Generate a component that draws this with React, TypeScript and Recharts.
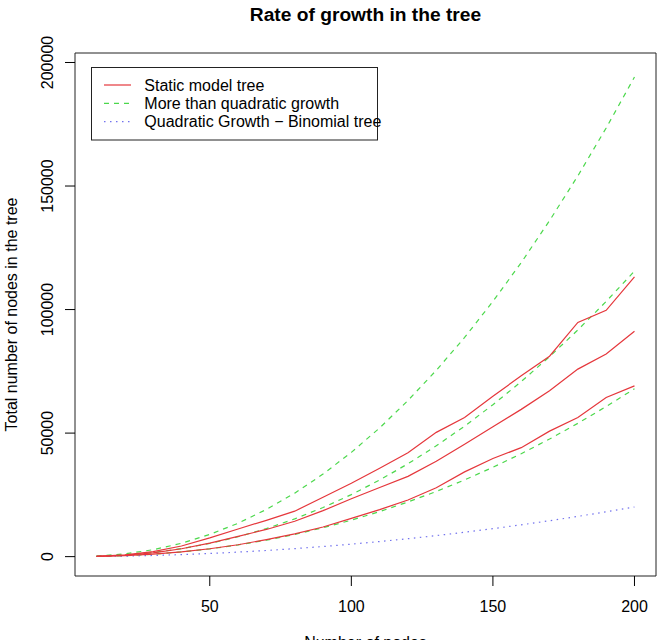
import { Line, LineChart, ReferenceArea, XAxis, YAxis } from "recharts";

const N = [10, 20, 30, 40, 50, 60, 70, 80, 90, 100, 110, 120, 130, 140, 150, 160, 170, 180, 190, 200];

// three runs of the static model
const STATIC_HIGH = [110, 700, 2000, 4300, 7600, 11200, 14700, 18400, 24000, 29700, 35800, 42000, 50300, 56300, 64900, 73200, 81100, 94800, 99700, 113200];
const STATIC_MID = [90, 550, 1500, 3200, 5500, 8200, 11000, 14300, 18600, 23400, 28000, 32500, 38600, 45500, 52600, 59600, 67100, 75900, 82000, 91200];
const STATIC_LOW = [80, 400, 1000, 1900, 3200, 4800, 6900, 9200, 12000, 15500, 19000, 22900, 27900, 34300, 39700, 44100, 50800, 56300, 64400, 69100];

// reference curves
const GROWTH_HIGH = [210, 1100, 2800, 5400, 9000, 13500, 19100, 25700, 33400, 42200, 52100, 63200, 75400, 88700, 103300, 119000, 136000, 154100, 173500, 194100];
const GROWTH_MID = [130, 650, 1670, 3220, 5330, 8030, 11350, 15290, 19870, 25110, 31000, 37590, 44850, 52810, 61480, 70840, 80930, 91740, 103280, 115550];
const GROWTH_LOW = [75, 380, 980, 1890, 3140, 4730, 6680, 8990, 11690, 14770, 18240, 22110, 26380, 31060, 36150, 41660, 47590, 53950, 60740, 67950];
const BINOMIAL = [55, 210, 465, 820, 1275, 1830, 2485, 3240, 4095, 5050, 6105, 7260, 8515, 9870, 11325, 12880, 14535, 16290, 18145, 20100];

const X_TICKS = [50, 100, 150, 200];
const Y_TICKS = [0, 50000, 100000, 150000, 200000];
const X_DOMAIN: [number, number] = [2.4, 207.6];
const Y_DOMAIN: [number, number] = [-7840, 203840];

const RED = "#E5373C";
const GREEN = "#4CD84C";
const BLUE = "#7272EE";
const FONT = "'Liberation Sans', Arial, sans-serif";

const LEGEND = [
  { label: "Static model tree", color: RED, dash: undefined },
  { label: "More than quadratic growth", color: GREEN, dash: "5 5" },
  { label: "Quadratic Growth \u2212 Binomial tree", color: BLUE, dash: "1.5 4.5" },
];

const rows = N.map((n, i) => ({
  n,
  sHigh: STATIC_HIGH[i],
  sMid: STATIC_MID[i],
  sLow: STATIC_LOW[i],
  gHigh: GROWTH_HIGH[i],
  gMid: GROWTH_MID[i],
  gLow: GROWTH_LOW[i],
  binom: BINOMIAL[i],
}));

const SERIES = [
  { key: "gHigh", color: GREEN, dash: "5 5" },
  { key: "gMid", color: GREEN, dash: "5 5" },
  { key: "gLow", color: GREEN, dash: "5 5" },
  { key: "binom", color: BLUE, dash: "1.5 4.5" },
  { key: "sHigh", color: RED, dash: undefined },
  { key: "sMid", color: RED, dash: undefined },
  { key: "sLow", color: RED, dash: undefined },
];

function YTick(props: any) {
  const { x, y, payload } = props;
  return (
    <text
      x={x}
      y={y}
      transform={`rotate(-90 ${x} ${y})`}
      textAnchor="middle"
      fontSize={16}
      fontFamily={FONT}
      fill="#000"
    >
      {payload.value}
    </text>
  );
}

export default function App() {
  return (
    <div style={{ position: "absolute", left: 0, top: 0, width: 661, height: 640, background: "#fff" }}>
      <LineChart
        width={661}
        height={640}
        data={rows}
        margin={{ top: 53, right: 5, bottom: 24, left: 15 }}
      >
        <XAxis
          dataKey="n"
          type="number"
          domain={X_DOMAIN}
          ticks={X_TICKS}
          allowDataOverflow
          axisLine={false}
          tickSize={10}
          tickMargin={15}
          height={40}
          stroke="#000"
          tick={{ fontSize: 16, fill: "#000", fontFamily: FONT }}
        />
        <YAxis
          type="number"
          domain={Y_DOMAIN}
          ticks={Y_TICKS}
          allowDataOverflow
          axisLine={false}
          tickSize={10}
          tickMargin={12}
          width={60}
          stroke="#000"
          tick={<YTick />}
        />
        <ReferenceArea
          x1={X_DOMAIN[0]}
          x2={X_DOMAIN[1]}
          y1={Y_DOMAIN[0]}
          y2={Y_DOMAIN[1]}
          fill="none"
          stroke="#222"
          strokeWidth={1}
          fillOpacity={0}
        />
        {SERIES.map((s) => (
          <Line
            key={s.key}
            dataKey={s.key}
            type="linear"
            stroke={s.color}
            strokeWidth={1.2}
            strokeDasharray={s.dash}
            dot={false}
            activeDot={false}
            isAnimationActive={false}
          />
        ))}
      </LineChart>
      <svg
        width={661}
        height={640}
        style={{ position: "absolute", left: 0, top: 0, pointerEvents: "none" }}
        fontFamily={FONT}
      >
        <text x={365.5} y={20.5} textAnchor="middle" fontSize={19.2} fontWeight="bold" fill="#000">
          Rate of growth in the tree
        </text>
        <text x={365.5} y={648} textAnchor="middle" fontSize={16} fill="#000">
          Number of nodes
        </text>
        <text
          x={17}
          y={314.5}
          transform="rotate(-90 17 314.5)"
          textAnchor="middle"
          fontSize={16}
          fill="#000"
        >
          Total number of nodes in the tree
        </text>
        <rect x={91.5} y={67.5} width={286} height={72.5} fill="#fff" stroke="#222" strokeWidth={1} />
        {LEGEND.map((item, i) => {
          const y = 85 + i * 18.3;
          return (
            <g key={item.label}>
              <line x1={104} x2={131} y1={y} y2={y} stroke={item.color} strokeWidth={1.2} strokeDasharray={item.dash} />
              <text x={144.3} y={y + 5.7} fontSize={16} fill="#000">
                {item.label}
              </text>
            </g>
          );
        })}
      </svg>
    </div>
  );
}
